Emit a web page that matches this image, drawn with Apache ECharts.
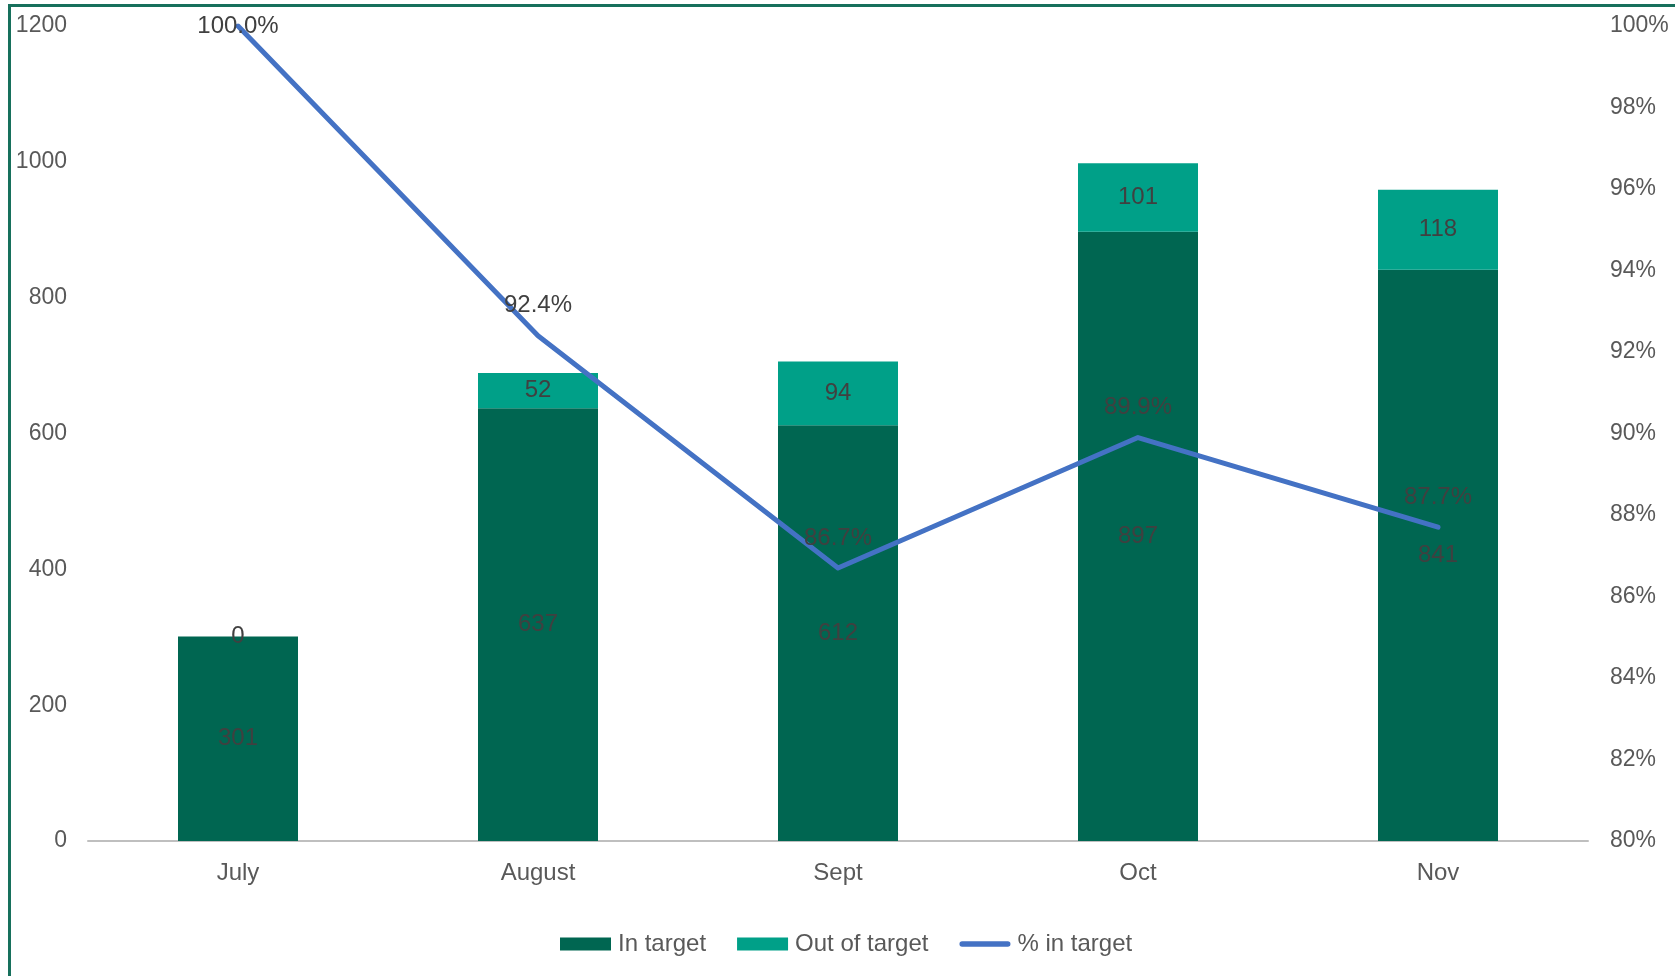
<!DOCTYPE html>
<html>
<head>
<meta charset="utf-8">
<script src="https://cdn.jsdelivr.net/npm/echarts@6/dist/echarts.min.js"></script>
<style>
  html, body { margin:0; padding:0; background:#fff; }
  #frame { position:absolute; left:8px; top:4px; width:1667px; height:972px;
           border-top:3px solid #17705C; border-left:3px solid #17705C; box-sizing:border-box; }
  #chart { position:absolute; left:0; top:0; width:1675px; height:976px; }
</style>
</head>
<body>
<div id="frame"></div>
<div id="chart"></div>
<script>
const categories = ['July', 'August', 'Sept', 'Oct', 'Nov'];
const inTarget = [301, 637, 612, 897, 841];
const outOfTarget = [0, 52, 94, 101, 118];
const pctInTarget = [100.0, 92.4, 86.7, 89.9, 87.7];
const leftTicks = { min: 0, max: 1200, interval: 200 };
const rightTicks = { min: 80, max: 100, interval: 2 };

const FONT = '"Liberation Sans", Arial, sans-serif';
const axisTxt = '#595959';
const lblTxt = '#404040';

const chart = echarts.init(document.getElementById('chart'), null, { renderer: 'canvas' });

const pctData = pctInTarget.map((v, i) => i === 0
  ? { value: v, label: { position: 'inside' } }
  : v);

chart.setOption({
  animation: false,
  textStyle: { fontFamily: FONT },
  grid: { left: 88, right: 87, top: 26, bottom: 135, containLabel: false },
  legend: {
    left: 555, top: 927,
    itemWidth: 51, itemHeight: 13, itemGap: 31,
    symbolKeepAspect: true,
    textStyle: { color: axisTxt, fontSize: 24, fontFamily: FONT, padding: [0, 0, 0, 2] },
    data: [
      { name: 'In target', icon: 'rect' },
      { name: 'Out of target', icon: 'rect' },
      { name: '% in target', icon: 'path://M3,0 L54,0 A3,3 0 0 1 54,6 L3,6 A3,3 0 0 1 3,0 Z' }
    ]
  },
  xAxis: {
    type: 'category',
    data: categories,
    axisLine: { lineStyle: { color: '#BFBFBF', width: 2 } },
    axisTick: { show: false },
    axisLabel: { color: axisTxt, fontSize: 24, margin: 20, fontFamily: FONT }
  },
  yAxis: [
    {
      type: 'value', position: 'left',
      min: leftTicks.min, max: leftTicks.max, interval: leftTicks.interval,
      axisLine: { show: false }, axisTick: { show: false },
      splitLine: { show: false },
      axisLabel: { color: axisTxt, fontSize: 23, margin: 21, fontFamily: FONT, formatter: v => String(v) }
    },
    {
      type: 'value', position: 'right',
      min: rightTicks.min, max: rightTicks.max, interval: rightTicks.interval,
      axisLine: { show: false }, axisTick: { show: false },
      splitLine: { show: false },
      axisLabel: { color: axisTxt, fontSize: 23, margin: 22, fontFamily: FONT, formatter: '{value}%' }
    }
  ],
  series: [
    {
      name: 'In target', type: 'bar', stack: 'total', data: inTarget,
      barWidth: 120,
      itemStyle: { color: '#006651' },
      label: { show: true, position: 'inside', color: lblTxt, fontSize: 24, fontFamily: FONT }
    },
    {
      name: 'Out of target', type: 'bar', stack: 'total', data: outOfTarget,
      barWidth: 120,
      itemStyle: { color: '#00A088' },
      label: { show: true, position: 'inside', color: lblTxt, fontSize: 24, fontFamily: FONT }
    },
    {
      name: '% in target', type: 'line', yAxisIndex: 1, data: pctData,
      symbol: 'circle', symbolSize: 2, showSymbol: true,
      lineStyle: { color: '#4472C4', width: 5, cap: 'round', join: 'round' },
      itemStyle: { color: '#4472C4' },
      label: {
        show: true, position: 'top', distance: 17, color: lblTxt, fontSize: 24, fontFamily: FONT,
        formatter: p => p.value.toFixed(1) + '%'
      },
      z: 5
    }
  ]
});
</script>
</body>
</html>
